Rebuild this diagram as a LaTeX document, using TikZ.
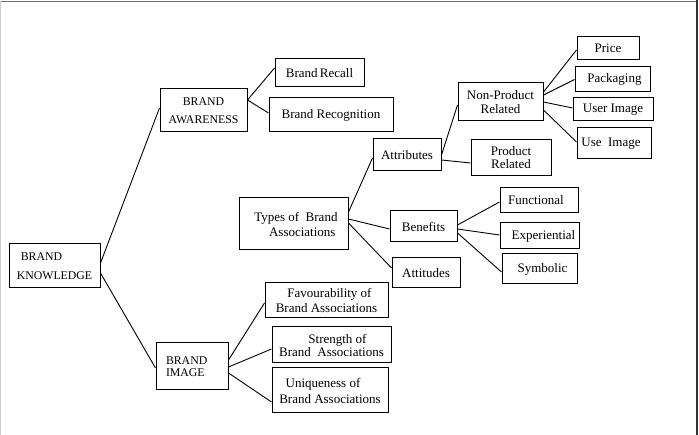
\documentclass[tikz,border=0pt]{standalone}
\usepackage{fontspec}
\setmainfont{Liberation Serif}
\begin{document}
\begin{tikzpicture}[x=1pt,y=-1pt,
  box/.style={draw, line width=1pt, inner sep=0pt, align=center, font=\fontsize{13}{15}\selectfont},
  capsbox/.style={draw, line width=1pt, inner sep=0pt, font=\fontsize{11.8}{18.5}\selectfont},
  conn/.style={line width=0.9pt}]
\useasboundingbox (0,0) rectangle (699,435);
% frame
\draw[line width=1.5pt, black!55] (0,1.5) -- (697,1.5);
\draw[line width=2pt, black!80] (697,0.5) -- (697,435);
\draw[line width=1pt, black!20] (0.5,1.5) -- (0.5,435);
% nodes
\node[capsbox, minimum width=91pt, minimum height=44pt, align=left] (know) at (54.5,266) {\hspace*{4pt}BRAND\\KNOWLEDGE};
\node[capsbox, minimum width=87pt, minimum height=43pt, align=center] (aware) at (203.5,110.5) {BRAND\\AWARENESS};
\node[capsbox, minimum width=72pt, minimum height=47pt, align=left, font=\fontsize{11.8}{11.5}\selectfont] (image) at (192,366.5) {\raisebox{5pt}{\parbox{52pt}{BRAND\\IMAGE}}};
\node[box, minimum width=89pt, minimum height=28pt] (recall) at (319.5,73) {Brand\hspace{-1pt} Recall};
\node[box, minimum width=124pt, minimum height=34pt] (recog) at (331,115) {Brand Recognition};
\node[box, minimum width=109pt, minimum height=52pt, align=right] (types) at (293.5,224) {\raisebox{4pt}{\parbox{88pt}{\raggedleft Types of \ Brand\\Associations\hspace*{2pt}}}};
\node[box, minimum width=68pt, minimum height=32pt] (attr) at (407,155) {Attributes};
\node[box, minimum width=67pt, minimum height=31pt] (benef) at (423.5,226.5) {Benefits};
\node[box, minimum width=68pt, minimum height=30pt] (attit) at (426,273) {Attitudes};
\node[box, minimum width=85pt, minimum height=38pt, font=\fontsize{13}{13.5}\selectfont] (nonprod) at (500.5,102) {Non-Product\\Related};
\node[box, minimum width=80pt, minimum height=36pt, font=\fontsize{13}{13}\selectfont] (prod) at (511,158) {Product\\Related};
\node[box, minimum width=62pt, minimum height=23pt] (price) at (608,48.5) {Price};
\node[box, minimum width=75pt, minimum height=25pt] (pack) at (612.5,79.5) {\hspace*{4pt}Packaging};
\node[box, minimum width=80pt, minimum height=23pt] (userimg) at (613,109.5) {User Image};
\node[box, minimum width=74pt, minimum height=31pt] (useimg) at (614,143.5) {\raisebox{3pt}{Use \ Image}\hspace*{6pt}};
\node[box, minimum width=78pt, minimum height=25pt] (func) at (539,200.5) {Functional\hspace*{6pt}};
\node[box, minimum width=79pt, minimum height=26pt] (exper) at (539.5,236) {\hspace*{8pt}Experiential};
\node[box, minimum width=75pt, minimum height=30pt] (symb) at (539.5,269) {\hspace*{6pt}Symbolic};
\node[box, minimum width=123pt, minimum height=35pt, font=\fontsize{13}{15.5}\selectfont] (fav) at (326.5,300.5) {\hspace*{6pt}Favourability of\\Brand Associations};
\node[box, minimum width=119pt, minimum height=36pt, font=\fontsize{13}{13}\selectfont] (strength) at (331.5,345) {\hspace*{12pt}Strength of\\Brand \ Associations};
\node[box, minimum width=116pt, minimum height=45pt, font=\fontsize{13}{16}\selectfont] (uniq) at (330,390.5) {Uniqueness of\hspace*{14pt}\\Brand Associations};
% connectors
\draw[conn] ([yshift=3pt]know.east) -- ([yshift=2.5pt]aware.west);
\draw[conn] ([yshift=-7pt]know.east) -- ([yshift=-1.5pt]image.west);
\draw[conn] ([yshift=10.5pt]aware.east) -- ([yshift=5pt]recall.west);
\draw[conn] ([yshift=10.5pt]aware.east) -- ([yshift=2pt]recog.west);
\draw[conn] ([yshift=6.5pt]image.east) -- ([yshift=-2.5pt]fav.west);
\draw[conn] ([yshift=-0.5pt]image.east) -- ([yshift=-4pt]strength.west);
\draw[conn] ([yshift=-6.5pt]image.east) -- ([yshift=-11.5pt]uniq.west);
\draw[conn] ([yshift=12pt]types.east) -- ([yshift=-3pt]attr.west);
\draw[conn] ([yshift=5pt]types.east) -- ([yshift=-2.5pt]benef.west);
\draw[conn] ([yshift=1pt]types.east) -- ([yshift=5pt]attit.west);
\draw[conn] (attr.east) -- ([yshift=-3pt]nonprod.west);
\draw[conn] ([yshift=-5pt]attr.east) -- ([yshift=-5pt]prod.west);
\draw[conn] ([yshift=10pt]nonprod.east) -- ([yshift=-1.5pt]price.west);
\draw[conn] ([yshift=7pt]nonprod.east) -- (pack.west);
\draw[conn] (nonprod.east) -- ([yshift=1.5pt]userimg.west);
\draw[conn] ([yshift=-8pt]nonprod.east) -- ([yshift=1.5pt]useimg.west);
\draw[conn] ([yshift=1.5pt]benef.east) -- ([yshift=-1.5pt]func.west);
\draw[conn] ([yshift=-2.5pt]benef.east) -- ([yshift=1pt]exper.west);
\draw[conn] ([yshift=-6.5pt]benef.east) -- ([yshift=-3pt]symb.west);
\end{tikzpicture}
\end{document}
